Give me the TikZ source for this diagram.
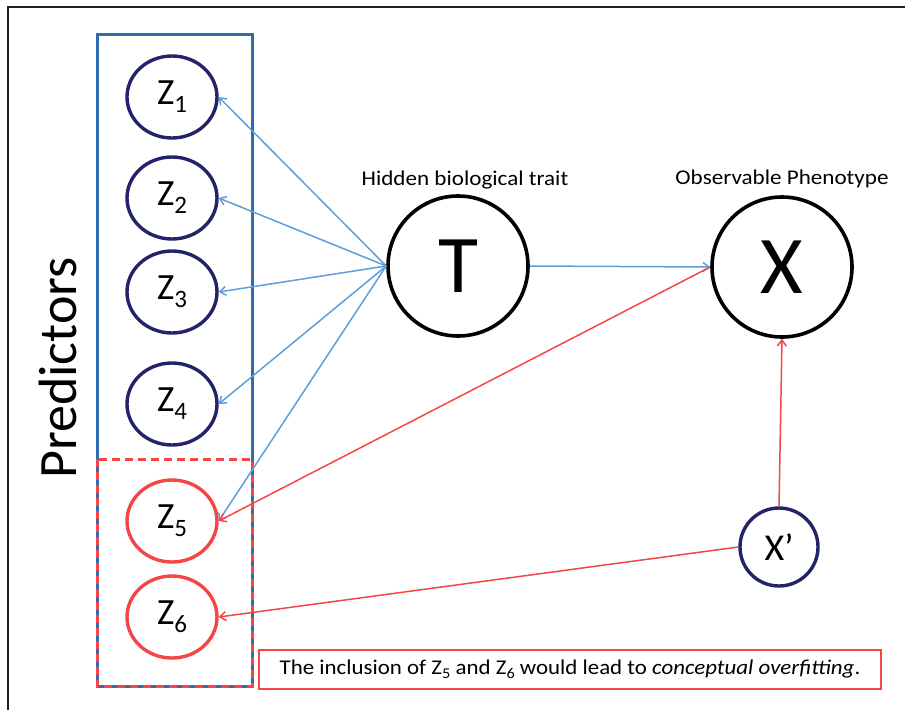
\documentclass[tikz,border=0pt]{standalone}
\usepackage{fontspec}
\setmainfont{Carlito}
\usetikzlibrary{arrows.meta,shapes.geometric}
\definecolor{boxblue}{RGB}{46,108,178}
\definecolor{arrblue}{RGB}{95,158,218}
\definecolor{myred}{RGB}{245,70,70}
\definecolor{navy}{RGB}{35,35,105}
\definecolor{framegray}{RGB}{35,35,35}
\newcommand{\zsub}[1]{\raisebox{-0.22em}{\fontsize{25}{25}\selectfont #1}}
\newcommand{\tsub}[1]{\raisebox{-0.2em}{\fontsize{15}{15}\selectfont #1}}
\begin{document}
\begin{tikzpicture}[x=1pt,y=-1pt,
  zc/.style={ellipse, draw=navy, line width=3.4pt, minimum width=90pt, minimum height=82pt, inner sep=0pt, font=\fontsize{37}{37}\selectfont},
  zr/.style={zc, draw=myred},
  big/.style={circle, draw=black, line width=3.6pt, minimum size=140pt, inner sep=0pt, font=\fontsize{82}{82}\selectfont},
  lbl/.style={font=\fontsize{21}{24}\selectfont},
  barrow/.style={draw=arrblue, line width=1.5pt, -{Straight Barb[length=6pt,width=9pt]}},
  rarrow/.style={draw=myred, line width=1.5pt, -{Straight Barb[length=6pt,width=9pt]}}
]
\useasboundingbox (0,0) rectangle (905,710);
% outer frame
\draw[framegray, line width=2.8pt] (8,710) -- (8,7) -- (905,7);
% predictors box
\draw[boxblue, line width=3pt] (97,34) rectangle (252,686);
\draw[myred, line width=3pt, dash pattern=on 8pt off 5pt] (97,459) rectangle (252,686);
% label
\node[rotate=90, anchor=base, font=\fontsize{54}{54}\selectfont] (pred) at (76,368) {Predictors};
% Z nodes
\node[zc] (z1) at (172,97) {Z\zsub{1}};
\node[zc] (z2) at (172,198) {Z\zsub{2}};
\node[zc] (z3) at (172,292) {Z\zsub{3}};
\node[zc] (z4) at (172,404) {Z\zsub{4}};
\node[zr] (z5) at (172,521) {Z\zsub{5}};
\node[zr] (z6) at (172,617) {Z\zsub{6}};
% T and X
\node[big] (t) at (458,266) {T};
\node[big] (x) at (782,267) {X};
\node[lbl] (tl) at (465,180) {\scalebox{1.1}[1]{Hidden biological trait}};
\node[lbl] (xl) at (782,179) {\scalebox{1.1}[1]{Observable Phenotype}};
\node[circle, draw=navy, line width=3.4pt, minimum size=78pt, inner sep=0pt, font=\fontsize{38}{38}\selectfont] (xp) at (779,547) {X’};
% arrows
\foreach \z in {z1,z2,z3,z4,z5} \draw[barrow] (t.west) -- (\z.east);
\draw[barrow] (t.east) -- (x.west);
\draw[rarrow] (x.west) -- (z5.east);
\draw[rarrow] (xp.west) -- (z6.east);
\draw[rarrow] (xp.north) -- (x.south);
% note box
\node[draw=myred, line width=2pt, minimum width=622pt, minimum height=39pt, inner sep=0pt, anchor=north west, font=\fontsize{21}{24}\selectfont] (note) at (258,649) {\scalebox{1.09}[1]{The inclusion of Z\tsub{5} and Z\tsub{6} would lead to \textit{conceptual overfitting}.}};
\end{tikzpicture}
\end{document}
